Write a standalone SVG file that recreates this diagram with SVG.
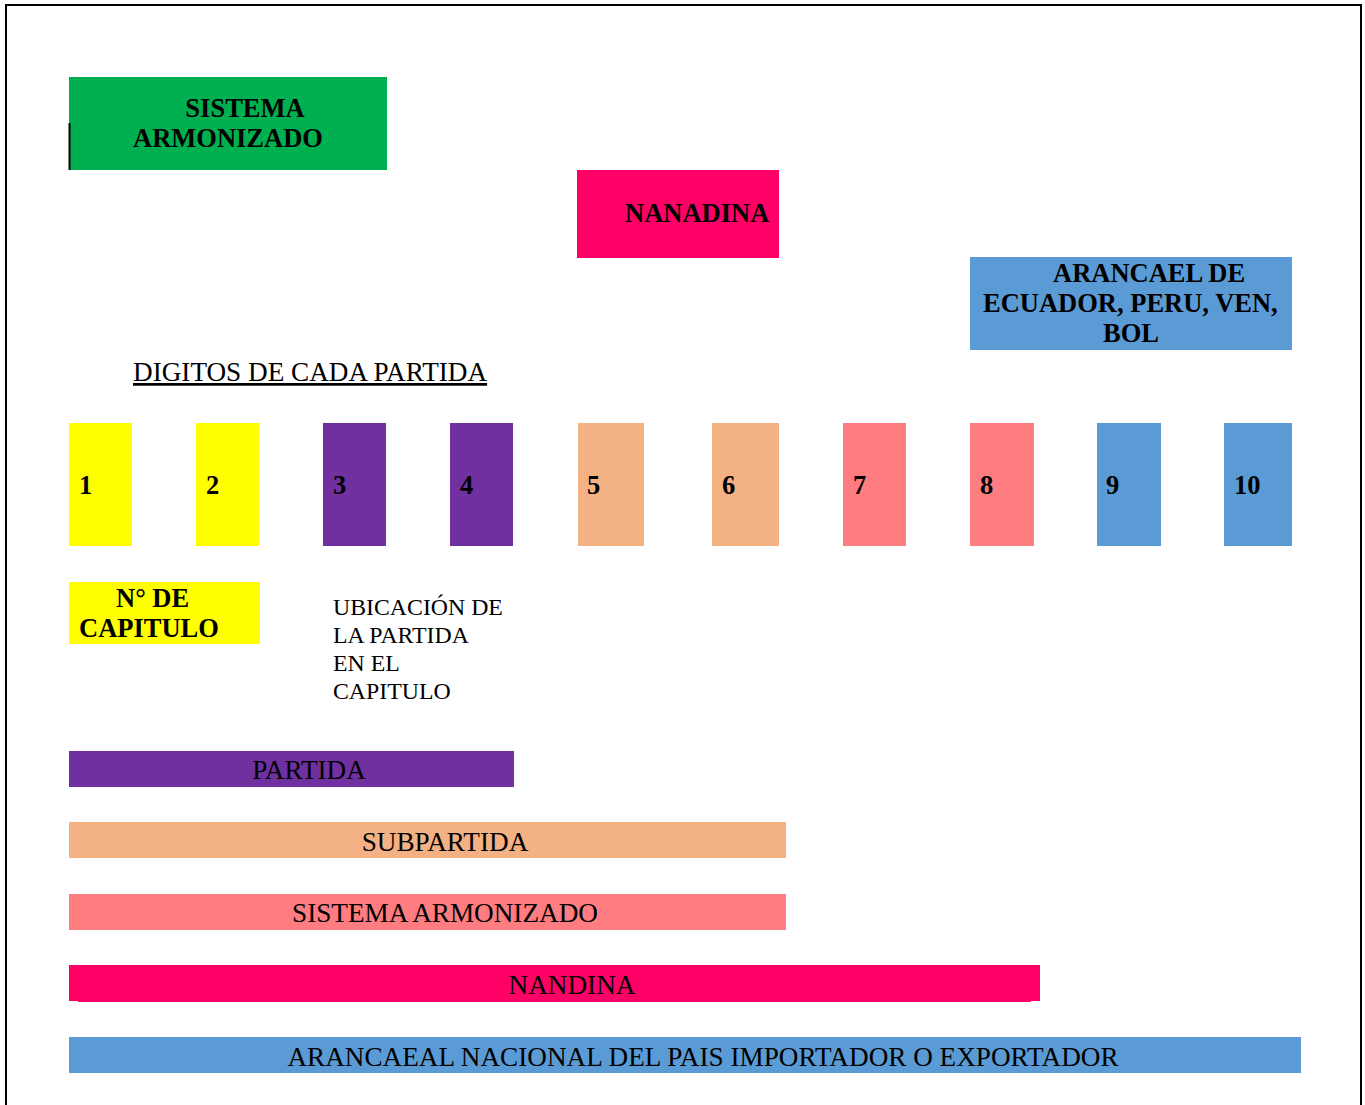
<svg xmlns="http://www.w3.org/2000/svg" width="1365" height="1105" viewBox="0 0 1365 1105">
<style>
text{font-family:"Liberation Serif","Times New Roman",serif;fill:#000}
.b{font-weight:bold;font-size:26.5px}
.r{font-size:27.2px}
.m{text-anchor:middle}
.y{fill:#FFFF00}.p{fill:#7030A0}.o{fill:#F4B183}.s{fill:#FF7C80}.bl{fill:#5B9BD5}.k{fill:#FF0066}.g{fill:#00B050}
</style>
<rect width="1365" height="1105" fill="#fff"/>
<polyline points="6,1105 6,5 1361,5 1361,1105" fill="none" stroke="#000" stroke-width="2"/>
<g id="sistema-armonizado">
<rect class="g" x="69" y="77" width="318" height="93"/>
<line x1="69.5" y1="123" x2="69.5" y2="170" stroke="#000" stroke-width="2"/>
<text class="b m" x="245" y="117">SISTEMA</text>
<text class="b" x="133" y="147">ARMONIZADO</text>
</g>
<g id="nanadina">
<rect class="k" x="577" y="170" width="202" height="88"/>
<text class="b" x="625" y="222">NANADINA</text>
</g>
<g id="arancel-paises">
<rect class="bl" x="970" y="257" width="322" height="93"/>
<text class="b" x="1053" y="282">ARANCAEL DE</text>
<text class="b" x="983" y="312">ECUADOR, PERU, VEN,</text>
<text class="b" x="1103" y="342">BOL</text>
</g>
<g id="digitos-titulo">
<text class="r" x="133" y="381" text-decoration="underline">DIGITOS DE CADA PARTIDA</text>
</g>
<g id="d1"><rect class="y" x="69" y="423" width="63" height="123"/><text class="b" x="79" y="494">1</text></g>
<g id="d2"><rect class="y" x="196" y="423" width="63" height="123"/><text class="b" x="206" y="494">2</text></g>
<g id="d3"><rect class="p" x="323" y="423" width="63" height="123"/><text class="b" x="333" y="494">3</text></g>
<g id="d4"><rect class="p" x="450" y="423" width="63" height="123"/><text class="b" x="460" y="494">4</text></g>
<g id="d5"><rect class="o" x="578" y="423" width="66" height="123"/><text class="b" x="587" y="494">5</text></g>
<g id="d6"><rect class="o" x="712" y="423" width="67" height="123"/><text class="b" x="722" y="494">6</text></g>
<g id="d7"><rect class="s" x="843" y="423" width="63" height="123"/><text class="b" x="853" y="494">7</text></g>
<g id="d8"><rect class="s" x="970" y="423" width="64" height="123"/><text class="b" x="980" y="494">8</text></g>
<g id="d9"><rect class="bl" x="1097" y="423" width="64" height="123"/><text class="b" x="1106" y="494">9</text></g>
<g id="d10"><rect class="bl" x="1224" y="423" width="68" height="123"/><text class="b" x="1234" y="494">10</text></g>
<g id="n-capitulo">
<rect class="y" x="69" y="582" width="191" height="62"/>
<text class="b" x="116" y="607">N° DE</text>
<text class="b" x="79" y="637">CAPITULO</text>
</g>
<g id="ubicacion">
<text font-size="23.8" x="333" y="615">UBICACIÓN DE</text>
<text font-size="23.8" x="333" y="643">LA PARTIDA</text>
<text font-size="23.8" x="333" y="671">EN EL</text>
<text font-size="23.8" x="333" y="699">CAPITULO</text>
</g>
<g id="bar-partida"><rect class="p" x="69" y="751" width="445" height="36"/><text class="r m" x="309" y="779">PARTIDA</text></g>
<g id="bar-subpartida"><rect class="o" x="69" y="822" width="717" height="36"/><text class="r m" x="445" y="851">SUBPARTIDA</text></g>
<g id="bar-sa"><rect class="s" x="69" y="894" width="717" height="36"/><text class="r m" x="445" y="922">SISTEMA ARMONIZADO</text></g>
<g id="bar-nandina"><rect class="k" x="69" y="965" width="971" height="36"/><rect class="k" x="78" y="1000" width="953" height="2"/><text class="r m" x="572" y="994">NANDINA</text></g>
<g id="bar-arancel"><rect class="bl" x="69" y="1037" width="1232" height="36"/><text class="r m" x="703" y="1066">ARANCAEAL NACIONAL DEL PAIS IMPORTADOR O EXPORTADOR</text></g>
<g id="connectors"></g>
</svg>
